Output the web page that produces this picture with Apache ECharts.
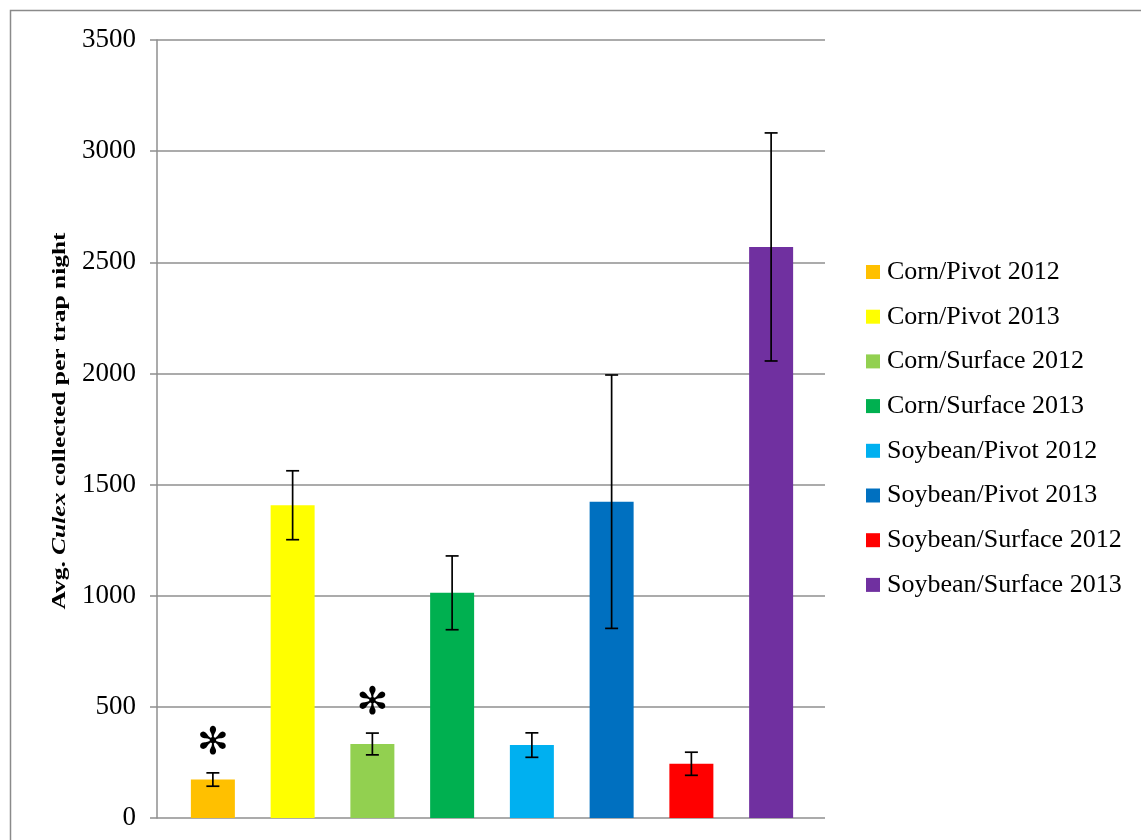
<!DOCTYPE html>
<html>
<head>
<meta charset="utf-8">
<title>Avg. Culex collected per trap night</title>
<script src="https://cdn.jsdelivr.net/npm/echarts@6/dist/echarts.min.js"></script>
<style>
  html, body { margin: 0; padding: 0; background: #ffffff; overflow: hidden; }
  #chart { width: 1141px; height: 840px; }
</style>
</head>
<body>
<div id="chart"></div>
<script>
// Treatment groups (crop / irrigation / year)
const categories = [
  'Corn/Pivot 2012', 'Corn/Pivot 2013', 'Corn/Surface 2012', 'Corn/Surface 2013',
  'Soybean/Pivot 2012', 'Soybean/Pivot 2013', 'Soybean/Surface 2012', 'Soybean/Surface 2013'
];
// Mean Culex per trap night
const means = [173, 1407, 333, 1013, 328, 1423, 244, 2569];
// Standard error (half-length of each error bar)
const stdErr = [30, 155, 49, 166, 55, 570, 52, 513];
// Significance marks drawn above the error bars
const marks = ['*', '', '*', '', '', '', '', ''];
// Y axis ticks
const yMin = 0, yMax = 3500, yStep = 500;

const colors = ['#FFC000', '#FFFF00', '#92D050', '#00B050', '#00B0F0', '#0070C0', '#FF0000', '#7030A0'];

const chart = echarts.init(document.getElementById('chart'));

const serif = '"Liberation Serif", "Times New Roman", serif';
const gridColor = '#8f8f8f';

const barSeries = categories.map((name, i) => ({
  name: name,
  type: 'bar',
  xAxisIndex: 1,
  yAxisIndex: 1,
  barWidth: 44,
  barGap: '-100%',
  itemStyle: { color: colors[i] },
  data: categories.map((c, j) => (j === i ? means[i] : '-')),
  animation: false
}));

const errorData = means.map((m, i) => [i, m - stdErr[i], m + stdErr[i]]);

const option = {
  animation: false,
  backgroundColor: '#ffffff',
  grid: [
    { left: 157, right: 316, top: 40, bottom: 22 },
    { left: 173, right: 330, top: 40, bottom: 22 }
  ],
  xAxis: [
    { gridIndex: 0, type: 'category', data: [''], show: false },
    { gridIndex: 1, type: 'category', data: categories, show: false }
  ],
  yAxis: [
    {
      gridIndex: 0, type: 'value', min: yMin, max: yMax, interval: yStep,
      axisLine: { show: true, lineStyle: { color: gridColor, width: 1.5 } },
      axisTick: { show: true, inside: false, length: 7, lineStyle: { color: gridColor, width: 1.5 } },
      splitLine: { show: true, lineStyle: { color: gridColor, width: 1.5 } },
      axisLabel: {
        color: '#000', fontFamily: serif, fontSize: 27, margin: 21,
        formatter: function (v) { return String(v); }
      }
    },
    { gridIndex: 1, type: 'value', min: yMin, max: yMax, show: false, splitLine: { show: false } }
  ],
  legend: {
    orient: 'vertical',
    left: 866,
    top: 257,
    padding: 0,
    data: categories,
    icon: 'rect',
    itemWidth: 14,
    itemHeight: 14,
    itemGap: 14.7,
    selectedMode: false,
    textStyle: { color: '#000', fontFamily: serif, fontSize: 26, lineHeight: 30, padding: [0, 0, 0, 2] }
  },
  graphic: [
    {
      type: 'rect', silent: true,
      shape: { x: 10.5, y: 10.5, width: 3000, height: 3000 },
      style: { fill: 'none', stroke: '#8a8a8a', lineWidth: 1.5 }
    },
    {
      type: 'text', silent: true,
      x: 60.5, y: 421, rotation: Math.PI / 2, scaleX: 1.34, scaleY: 1,
      style: {
        text: '{b|Avg. }{i|Culex}{b| collected per trap night}',
        align: 'center', verticalAlign: 'middle',
        rich: {
          b: { fontFamily: serif, fontWeight: 'bold', fontSize: 19, fill: '#000' },
          i: { fontFamily: serif, fontWeight: 'bold', fontStyle: 'italic', fontSize: 19, fill: '#000' }
        }
      }
    }
  ],
  series: barSeries.concat([
    {
      type: 'custom',
      name: 'error',
      xAxisIndex: 1,
      yAxisIndex: 1,
      data: errorData,
      z: 5,
      renderItem: function (params, api) {
        const x = api.coord([api.value(0), 0])[0];
        const lo = api.coord([api.value(0), api.value(1)])[1];
        const hi = api.coord([api.value(0), api.value(2)])[1];
        const cap = 6.5;
        const style = { stroke: '#000', lineWidth: 1.7 };
        const children = [
          { type: 'line', shape: { x1: x, y1: hi, x2: x, y2: lo }, style: style },
          { type: 'line', shape: { x1: x - cap, y1: hi, x2: x + cap, y2: hi }, style: style },
          { type: 'line', shape: { x1: x - cap, y1: lo, x2: x + cap, y2: lo }, style: style }
        ];
        if (marks[params.dataIndex]) {
          children.push({
            type: 'text',
            x: x, y: hi - 29,
            style: {
              text: '\u273B',
              font: 'bold 38px "DejaVu Sans"',
              fill: '#000',
              align: 'center', verticalAlign: 'middle'
            }
          });
        }
        return { type: 'group', children: children };
      }
    }
  ])
};

chart.setOption(option);
</script>
</body>
</html>
